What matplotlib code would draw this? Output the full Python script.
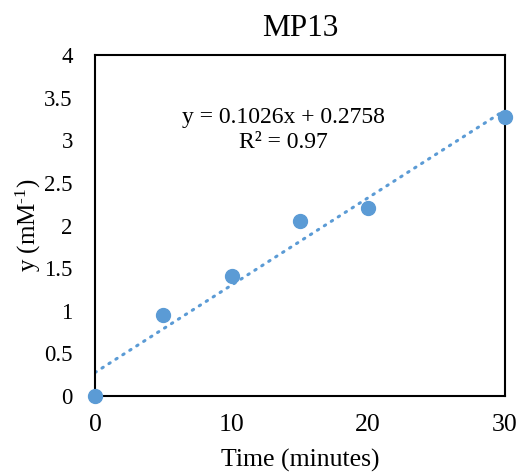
import numpy as np
import matplotlib
matplotlib.use("Agg")
import matplotlib.pyplot as plt

plt.rcParams['font.family'] = ['Liberation Serif', 'DejaVu Serif']
plt.rcParams['mathtext.fontset'] = 'custom'
plt.rcParams['mathtext.rm'] = 'Liberation Serif'
plt.rcParams['mathtext.it'] = 'Liberation Serif:italic'

# data
time_min = [0, 5, 10, 15, 20, 30]
y_vals = [0.0, 0.95, 1.41, 2.05, 2.21, 3.27]
slope = 0.1026
intercept = 0.2758
x_ticks = [0, 10, 20, 30]
y_ticks = [0, 0.5, 1, 1.5, 2, 2.5, 3, 3.5, 4]
y_tick_labels = ['0', '0.5', '1', '1.5', '2', '2.5', '3', '3.5', '4']

blue = '#5B9BD5'


def main():
    fig = plt.figure(figsize=(5.22, 4.76), dpi=100)
    ax = fig.add_axes([0.182, 0.168, 0.785, 0.716])

    # trendline
    xs = np.array([0, 30])
    ax.plot(xs, slope * xs + intercept, color=blue, linestyle=(0, (0.5, 2.2)),
            linewidth=2.2, dash_capstyle='round', zorder=2)
    ax.plot(time_min, y_vals, 'o', color=blue, markersize=10, zorder=3, clip_on=False)

    ax.set_xlim(0, 30)
    ax.set_ylim(0, 4)
    ax.set_xticks(x_ticks)
    ax.set_yticks(y_ticks)
    ax.set_yticklabels(y_tick_labels)
    ax.tick_params(length=0)
    ax.tick_params(axis='x', pad=13, labelsize=18.5)
    ax.tick_params(axis='y', pad=16, labelsize=16.5)
    for sp in ax.spines.values():
        sp.set_linewidth(1.5)
        sp.set_color('black')

    ax.set_title('MP13', fontsize=22.5, pad=14)
    ax.set_xlabel('Time (minutes)', fontsize=18.5, labelpad=9)
    ax.set_ylabel(r'y (mM$^{\text{-1}}$)', fontsize=18, labelpad=1)

    ax.text(13.8, 3.27, 'y = 0.1026x + 0.2758', fontsize=17, ha='center', va='center')
    ax.text(13.8, 2.97, 'R² = 0.97', fontsize=17, ha='center', va='center')

    fig.savefig('out.png', dpi=100)


if __name__ == "__main__":
    main()
